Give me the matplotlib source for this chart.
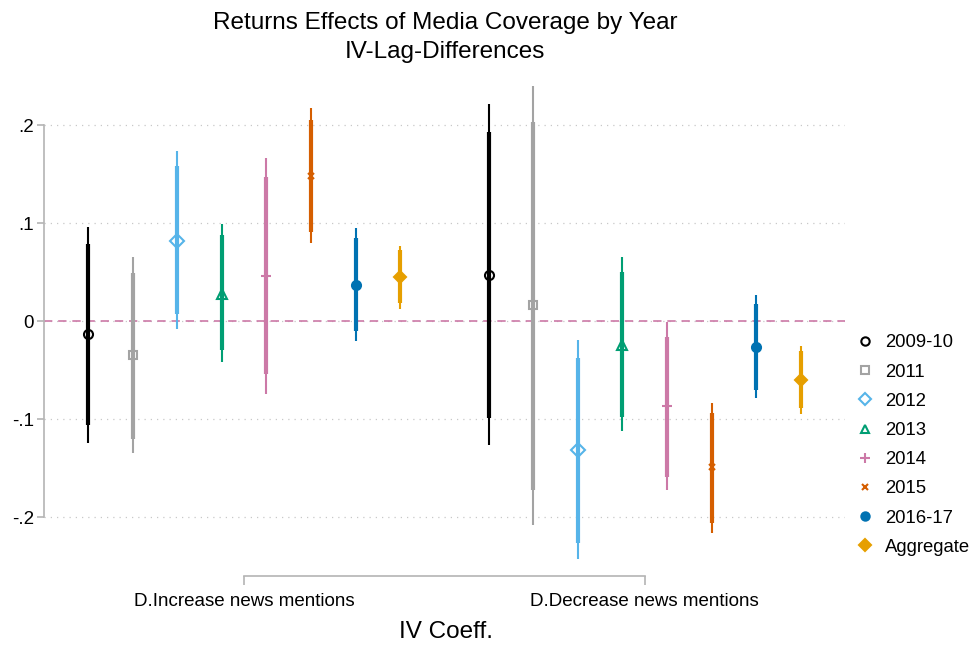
import numpy as np
import matplotlib
matplotlib.use('Agg')
import matplotlib.pyplot as plt
from matplotlib.lines import Line2D

plt.rcParams['font.family'] = ['Liberation Sans', 'DejaVu Sans']

groups = ['D.Increase news mentions', 'D.Decrease news mentions']
years = ['2009-10', '2011', '2012', '2013', '2014', '2015', '2016-17', 'Aggregate']

# point estimates and confidence bands, one value per year
coef_inc = [-0.013, -0.035, 0.082, 0.028, 0.046, 0.148, 0.037, 0.045]
inner_lo_inc = [-0.106, -0.120, 0.007, -0.030, -0.054, 0.091, -0.010, 0.018]
inner_hi_inc = [0.079, 0.049, 0.158, 0.088, 0.147, 0.205, 0.085, 0.072]
outer_lo_inc = [-0.124, -0.135, -0.008, -0.042, -0.074, 0.080, -0.020, 0.012]
outer_hi_inc = [0.096, 0.065, 0.173, 0.099, 0.166, 0.217, 0.095, 0.077]

coef_dec = [0.047, 0.016, -0.132, -0.024, -0.087, -0.149, -0.026, -0.060]
inner_lo_dec = [-0.099, -0.172, -0.226, -0.098, -0.159, -0.206, -0.070, -0.089]
inner_hi_dec = [0.193, 0.203, -0.038, 0.050, -0.016, -0.094, 0.017, -0.031]
outer_lo_dec = [-0.127, -0.208, -0.243, -0.112, -0.172, -0.216, -0.079, -0.095]
outer_hi_dec = [0.221, 0.240, -0.019, 0.065, -0.001, -0.084, 0.027, -0.025]

yticks = [-0.2, -0.1, 0, 0.1, 0.2]
ytick_labels = ['-.2', '-.1', '0', '.1', '.2']

colors = ['#000000', '#A3A3A3', '#56B4E9', '#009E73', '#CC79A7', '#D55E00', '#0072B2', '#E69F00']
markers = ['o', 's', 'D', '^', '+', 'x', 'o', 'D']
filled = [False, False, False, False, True, True, True, True]
msizes = [6.5, 6, 7, 6.5, 7, 5, 6.5, 6.5]

axis_gray = '#b4b4b4'

fig = plt.figure(figsize=(9.79, 6.47), dpi=100)
ax = fig.add_axes([0.0449, 0.110, 0.8182, 0.7725])
ax.set_xlim(0.5, 2.5)
ax.set_ylim(-0.26, 0.25)

ax.grid(axis='y', linestyle=(0, (1, 4)), color='#c8c8c8', lw=0.9)
ax.set_axisbelow(True)
ax.axhline(0, color='#CC79A7', ls=(0, (5, 3.5)), lw=1.2, zorder=1)

offsets = (np.arange(len(years)) - 3.5) * 0.11125
data = [(coef_inc, inner_lo_inc, inner_hi_inc, outer_lo_inc, outer_hi_inc),
        (coef_dec, inner_lo_dec, inner_hi_dec, outer_lo_dec, outer_hi_dec)]

for g, (coef, ilo, ihi, olo, ohi) in enumerate(data):
    for i in range(len(years)):
        x = g + 1 + offsets[i]
        c = colors[i]
        ax.vlines(x, olo[i], ohi[i], color=c, lw=1.5, zorder=3)
        ax.vlines(x, ilo[i], ihi[i], color=c, lw=3.0, zorder=3)
        ax.plot(x, coef[i], marker=markers[i], ms=msizes[i], color=c,
                mfc=c if filled[i] else 'none', mew=1.5, zorder=4)

for s in ['top', 'right']:
    ax.spines[s].set_visible(False)
ax.spines['left'].set_bounds(-0.2, 0.2)
ax.spines['bottom'].set_bounds(1, 2)
for s in ['left', 'bottom']:
    ax.spines[s].set_color(axis_gray)
    ax.spines[s].set_linewidth(1.2)

ax.set_yticks(yticks)
ax.set_yticklabels(ytick_labels, fontsize=13.5)
ax.set_xticks([1, 2])
ax.set_xticklabels(groups, fontsize=13.5)
ax.tick_params(axis='y', length=5, width=1.2, color=axis_gray, pad=2)
ax.tick_params(axis='x', length=6.5, width=1.2, color=axis_gray, pad=6)

fig.text(0.4545, 1 - 29 / 647, 'Returns Effects of Media Coverage by Year',
         ha='center', va='baseline', fontsize=17.5)
fig.text(0.4545, 1 - 58 / 647, 'IV-Lag-Differences',
         ha='center', va='baseline', fontsize=17.5)
fig.text(0.4555, 1 - 638 / 647, 'IV Coeff.', ha='center', va='baseline', fontsize=17.5)

handles = [Line2D([], [], ls='none', marker=markers[i], color=colors[i],
                  mfc=colors[i] if filled[i] else 'none', mew=1.5, ms=msizes[i] - 0.5,
                  label=years[i]) for i in range(len(years))]
fig.legend(handles=handles, loc='center left', bbox_to_anchor=(856 / 979, 0.312),
           frameon=False, fontsize=13.3, borderpad=0, borderaxespad=0,
           handlelength=1.0, handletextpad=0.55, labelspacing=0.66)

fig.savefig('out.png', dpi=100)
